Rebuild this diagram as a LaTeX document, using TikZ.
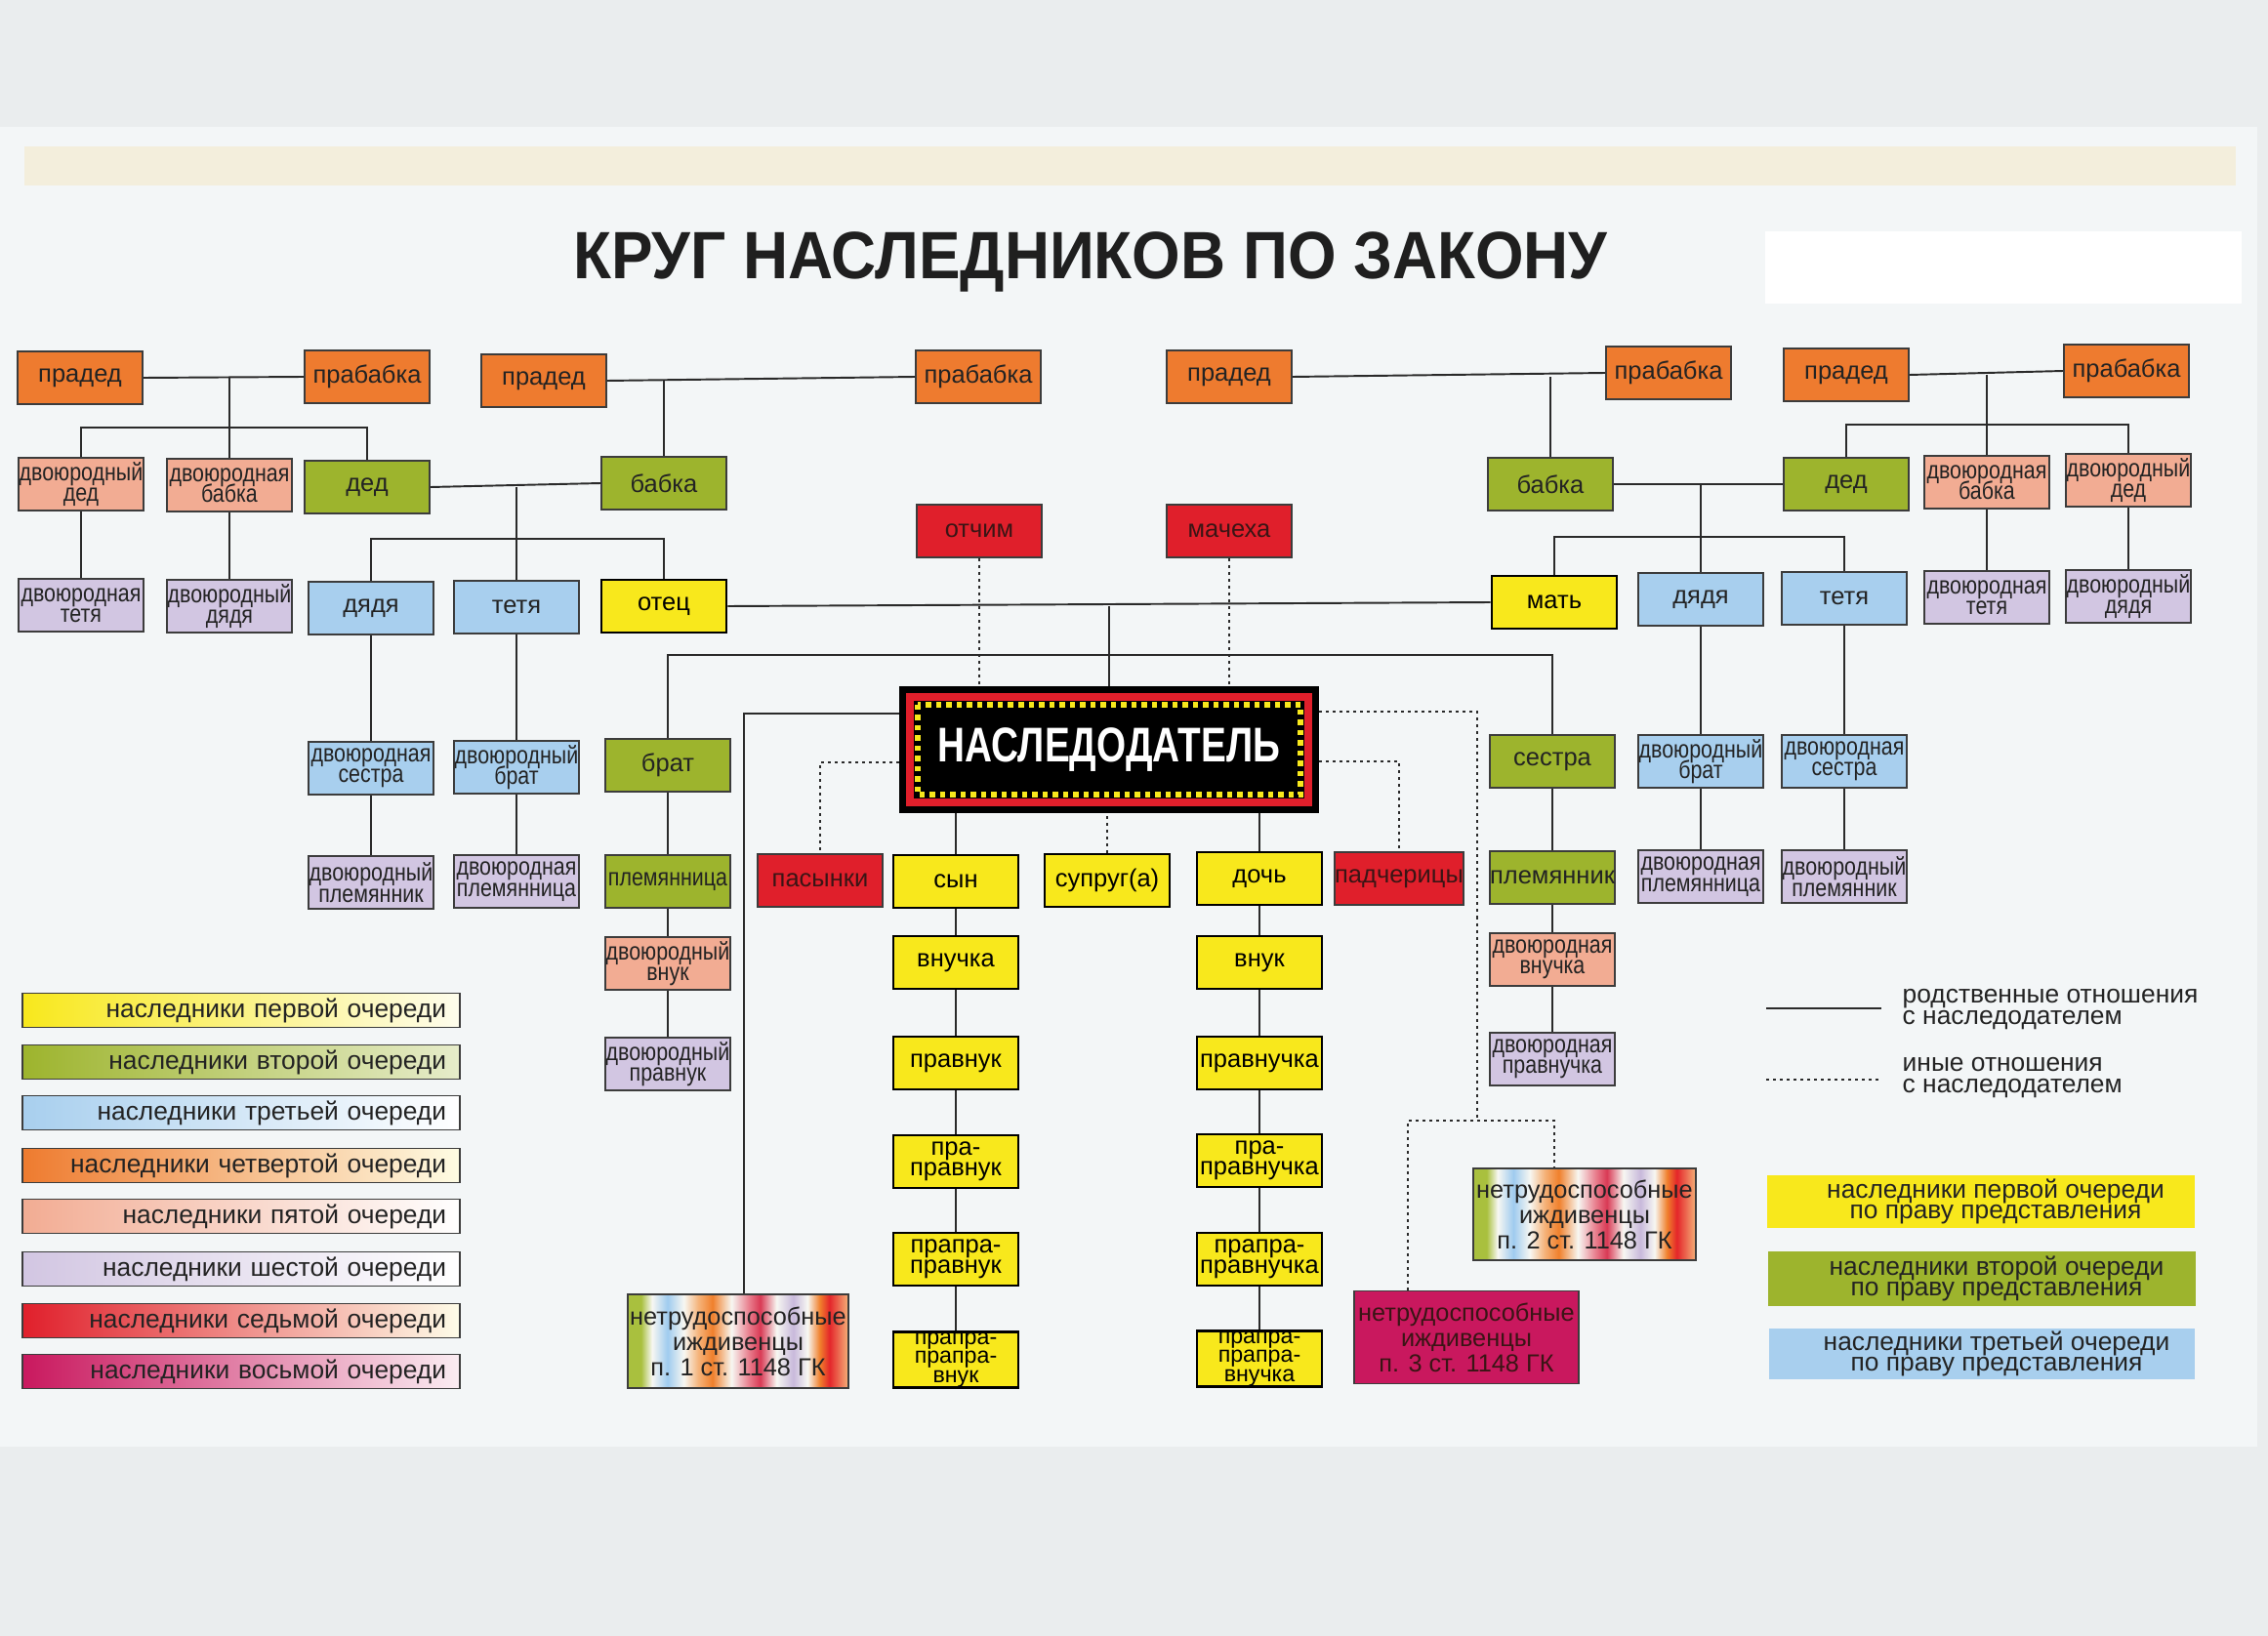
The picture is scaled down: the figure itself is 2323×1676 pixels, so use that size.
\documentclass[tikz,border=0pt]{standalone}
\usepackage{fontspec}
\usepackage{graphicx}
\setmainfont{Liberation Sans}
\newfontfamily\narrowfont{Liberation Sans}[FakeStretch=0.84]
\newfontfamily\nasfont{Liberation Sans}[FakeStretch=0.775]
\newfontfamily\titlefont{Liberation Sans}[FakeStretch=0.93]
\usetikzlibrary{calc}
\definecolor{cbg}{HTML}{EAEDEE}
\definecolor{cpaper}{HTML}{F3F6F7}
\definecolor{ccream}{HTML}{F3EEDC}
\definecolor{corange}{HTML}{EE7B2F}
\definecolor{csalmon}{HTML}{F2AC93}
\definecolor{clav}{HTML}{D2C6E2}
\definecolor{cgreen}{HTML}{9DB42D}
\definecolor{cblue}{HTML}{A8CFEE}
\definecolor{cyellow}{HTML}{F8E81C}
\definecolor{cred}{HTML}{E01F2B}
\definecolor{cmag}{HTML}{C9185E}
\definecolor{cbord}{HTML}{3C3C3C}
\definecolor{ctext}{HTML}{232323}
\definecolor{cline}{HTML}{2A2A2A}
\definecolor{credtext}{HTML}{3A1515}
\definecolor{rgreen}{HTML}{A9C03E}
\definecolor{rblue}{HTML}{9FCBEF}
\definecolor{rlor}{HTML}{F5B37A}
\definecolor{rorange}{HTML}{F0802C}
\definecolor{rrose}{HTML}{D93A55}
\definecolor{rpink}{HTML}{E87C8C}
\definecolor{rlav}{HTML}{C8B9DB}
\definecolor{rred}{HTML}{E4262A}
\definecolor{rwhite}{HTML}{F7F7F2}
\pgfdeclarehorizontalshading{rainbow}{100bp}{color(0bp)=(rgreen); color(25bp)=(rgreen); color(28bp)=(rgreen); color(30.5bp)=(rwhite); color(34bp)=(rblue); color(37.7bp)=(rwhite); color(41bp)=(rlor); color(44.2bp)=(rorange); color(48.5bp)=(rwhite); color(52.5bp)=(rpink); color(55bp)=(rrose); color(58.7bp)=(rwhite); color(62.5bp)=(rlav); color(65.7bp)=(rwhite); color(68.5bp)=(rorange); color(70.7bp)=(rred); color(75bp)=(rlor); color(100bp)=(rlor)}
\newcommand{\boxfs}{\fontsize{7.25}{6.1}\selectfont\lineskiplimit=-10pt\relax}
\newcommand{\trifs}{\fontsize{6.6}{5.6}\selectfont\lineskiplimit=-10pt\relax}
\newcommand{\legfs}{\fontsize{7.5}{6.0}\selectfont\lineskiplimit=-10pt\relax}
\newcommand{\nfs}{\fontsize{7.2}{7.4}\selectfont\lineskiplimit=-10pt\relax}
\begin{document}
\begin{tikzpicture}[x=0.01cm, y=-0.01cm,
  box/.style={draw=cbord, line width=0.45pt, minimum width=1.28cm, minimum height=0.54cm, inner sep=0pt, align=center, text=ctext, font=\boxfs},
  nar/.style={font=\narrowfont\boxfs},
  tri/.style={font=\trifs},
  ora/.style={box, fill=corange},
  sal/.style={box, fill=csalmon},
  lav/.style={box, fill=clav},
  grn/.style={box, fill=cgreen},
  blu/.style={box, fill=cblue},
  yel/.style={box, fill=cyellow, draw=black, line width=0.7pt, text=black},
  redb/.style={box, fill=cred, text=credtext},
  nbox/.style={box, font=\nfs, minimum height=0.95cm},
  rbow/.style={nbox, shade, shading=rainbow},
  link/.style={draw=cline, line width=0.55pt},
  dots/.style={draw=cline, line width=0.6pt, dash pattern=on 0.03cm off 0.04cm},
  legbar/.style={draw=cbord, line width=0.5pt, minimum width=4.48cm, minimum height=0.35cm, text width=4.2cm, inner xsep=0.14cm, inner ysep=0pt, align=right, font=\legfs, text=ctext},
  rleg/.style={minimum width=4.38cm, minimum height=0.53cm, inner sep=0pt, align=center, font=\legfs, text=ctext}
]
\useasboundingbox (0,0) rectangle (2323,1676);
% paper
\fill[cbg] (0,0) rectangle (2323,1676);
\fill[cpaper] (0,130) rectangle (2312,1482);
\fill[ccream] (25,150) rectangle (2290,190);
\fill[white] (1808,237) rectangle (2296,311);

% title
\node[font=\titlefont\fontsize{19.5}{22}\selectfont\bfseries, text=black!88] (title) at (1117,268) {КРУГ НАСЛЕДНИКОВ ПО ЗАКОНУ};

% great-grandparents
\node[ora] (pd1) at (82,387) {прадед};
\node[ora] (pb1) at (376,386) {прабабка};
\node[ora] (pd2) at (557,390) {прадед};
\node[ora] (pb2) at (1002,386) {прабабка};
\node[ora] (pd3) at (1259,386) {прадед};
\node[ora] (pb3) at (1709,382) {прабабка};
\node[ora] (pd4) at (1891,384) {прадед};
\node[ora] (pb4) at (2178,380) {прабабка};

% grandparents row
\node[sal, nar] (dd1) at (83,496) {двоюродный\\дед};
\node[sal, nar] (db1) at (235,497) {двоюродная\\бабка};
\node[grn] (ded1) at (376,499) {дед};
\node[grn] (bab1) at (680,495) {бабка};
\node[grn] (bab2) at (1588,496) {бабка};
\node[grn] (ded2) at (1891,496) {дед};
\node[sal, nar] (db2) at (2035,494) {двоюродная\\бабка};
\node[sal, nar] (dd2) at (2180,492) {двоюродный\\дед};

% step-parents
\node[redb] (otchim) at (1003,544) {отчим};
\node[redb] (macheha) at (1259,544) {мачеха};

% parents row
\node[lav, nar] (dt1) at (83,620) {двоюродная\\тетя};
\node[lav, nar] (ddy1) at (235,621) {двоюродный\\дядя};
\node[blu] (dya1) at (380,623) {дядя};
\node[blu] (tet1) at (529,622) {тетя};
\node[yel] (otec) at (680,621) {отец};
\node[yel] (mat) at (1592,617) {мать};
\node[blu] (dya2) at (1742,614) {дядя};
\node[blu] (tet2) at (1889,613) {тетя};
\node[lav, nar] (dt2) at (2035,612) {двоюродная\\тетя};
\node[lav, nar] (ddy2) at (2180,611) {двоюродный\\дядя};

% siblings row
\node[blu, nar] (ds1) at (380,787) {двоюродная\\сестра};
\node[blu, nar] (dbr1) at (529,786) {двоюродный\\брат};
\node[grn] (brat) at (684,784) {брат};
\node[grn] (sestra) at (1590,780) {сестра};
\node[blu, nar] (dbr2) at (1742,780) {двоюродный\\брат};
\node[blu, nar] (ds2) at (1889,780) {двоюродная\\сестра};

% testator
\node[fill=black, minimum width=4.29cm, minimum height=1.29cm, inner sep=0pt, text=white, font=\nasfont\fontsize{14.2}{16}\selectfont\bfseries] (nasl) at (1136,768) {НАСЛЕДОДАТЕЛЬ};
\draw[cred, line width=0.08cm] ($(nasl.north west)+(11,11)$) rectangle ($(nasl.south east)+(-11,-11)$);
\draw[cyellow, line width=0.06cm, dash pattern=on 0.055cm off 0.05cm] ($(nasl.north west)+(19,19)$) rectangle ($(nasl.south east)+(-19,-19)$);

% children row
\node[lav, nar] (dpl1) at (380,904) {двоюродный\\племянник};
\node[lav, nar] (dpla1) at (529,903) {двоюродная\\племянница};
\node[grn, nar] (plem1) at (684,903) {племянница};
\node[redb] (pas) at (840,902) {пасынки};
\node[yel] (syn) at (979,903) {сын};
\node[yel] (supr) at (1134,902) {супруг(а)};
\node[yel] (doch) at (1290,900) {дочь};
\node[redb] (padch) at (1433,900) {падчерицы};
\node[grn] (plem2) at (1590,899) {племянник};
\node[lav, nar] (dpla2) at (1742,898) {двоюродная\\племянница};
\node[lav, nar] (dpl2) at (1889,898) {двоюродный\\племянник};

% descendants
\node[sal, nar] (dvn) at (684,987) {двоюродный\\внук};
\node[yel] (vnuchka) at (979,986) {внучка};
\node[yel] (vnuk) at (1290,986) {внук};
\node[sal, nar] (dvnu) at (1590,983) {двоюродная\\внучка};
\node[lav, nar] (dpv) at (684,1090) {двоюродный\\правнук};
\node[yel] (pravnuk) at (979,1089) {правнук};
\node[yel] (pravnuchka) at (1290,1089) {правнучка};
\node[lav, nar] (dpvu) at (1590,1085) {двоюродная\\правнучка};
\node[yel] (ppv) at (979,1190) {пра-\\правнук};
\node[yel] (ppvu) at (1290,1189) {пра-\\правнучка};
\node[yel] (pppv) at (979,1290) {прапра-\\правнук};
\node[yel] (pppvu) at (1290,1290) {прапра-\\правнучка};
\node[yel, tri] (ppppv) at (979,1393) {прапра-\\прапра-\\внук};
\node[yel, tri] (ppppvu) at (1290,1392) {прапра-\\прапра-\\внучка};

% dependants
\node[rbow, minimum width=2.26cm, minimum height=0.96cm] (n1) at (756,1374) {нетрудоспособные\\иждивенцы\\п. 1 ст. 1148 ГК};
\node[rbow, minimum width=2.28cm, minimum height=0.94cm] (n2) at (1623,1244) {нетрудоспособные\\иждивенцы\\п. 2 ст. 1148 ГК};
\node[nbox, fill=cmag, text=credtext, minimum width=2.30cm, minimum height=0.95cm] (n3) at (1502,1370) {нетрудоспособные\\иждивенцы\\п. 3 ст. 1148 ГК};

% ---- connectors (solid)
\draw[link] (pd1.east) -- (pb1.west);
\draw[link] (db1.north) -- (db1.north |- pd1.east);
\coordinate (j1) at (235,438);
\draw[link] (dd1.north) |- (j1) -| (ded1.north);
\draw[link] (pd2.east) -- (pb2.west);
\draw[link] (bab1.north) -- (bab1.north |- pd2.east);
\draw[link] (ded1.east) -- (bab1.west);
\draw[link] (tet1.north) -- (tet1.north |- ded1.east);
\coordinate (j2) at (529,552);
\draw[link] (dya1.north) |- (j2) -| (otec.north);
\draw[link] (dd1.south) -- (dt1.north);
\draw[link] (db1.south) -- (ddy1.north);
\draw[link] (dya1.south) -- (ds1.north);
\draw[link] (ds1.south) -- (dpl1.north);
\draw[link] (tet1.south) -- (dbr1.north);
\draw[link] (dbr1.south) -- (dpla1.north);

\draw[link] (pd3.east) -- (pb3.west);
\draw[link] (bab2.north) -- (bab2.north |- pd3.east);
\draw[link] (pd4.east) -- (pb4.west);
\draw[link] (db2.north) -- (db2.north |- pd4.east);
\coordinate (j3) at (2035,435);
\draw[link] (ded2.north) |- (j3) -| (dd2.north);
\draw[link] (bab2.east) -- (ded2.west);
\draw[link] (dya2.north) -- (dya2.north |- bab2.east);
\coordinate (j4) at (1742,550);
\draw[link] (mat.north) |- (j4) -| (tet2.north);
\draw[link] (db2.south) -- (dt2.north);
\draw[link] (dd2.south) -- (ddy2.north);
\draw[link] (dya2.south) -- (dbr2.north);
\draw[link] (dbr2.south) -- (dpla2.north);
\draw[link] (tet2.south) -- (ds2.north);
\draw[link] (ds2.south) -- (dpl2.north);

\draw[link] (otec.east) -- (mat.west);
\draw[link] (nasl.north) -- (nasl.north |- otec.east);
\coordinate (j5) at (1136,671);
\draw[link] (brat.north) |- (j5) -| (sestra.north);
\draw[link] (brat.south) -- (plem1.north);
\draw[link] (plem1.south) -- (dvn.north);
\draw[link] (dvn.south) -- (dpv.north);
\draw[link] (sestra.south) -- (plem2.north);
\draw[link] (plem2.south) -- (dvnu.north);
\draw[link] (dvnu.south) -- (dpvu.north);
\draw[link] (syn.north) -- (syn.north |- nasl.south);
\draw[link] (doch.north) -- (doch.north |- nasl.south);
\draw[link] (syn.south) -- (vnuchka.north);
\draw[link] (vnuchka.south) -- (pravnuk.north);
\draw[link] (pravnuk.south) -- (ppv.north);
\draw[link] (ppv.south) -- (pppv.north);
\draw[link] (pppv.south) -- (ppppv.north);
\draw[link] (doch.south) -- (vnuk.north);
\draw[link] (vnuk.south) -- (pravnuchka.north);
\draw[link] (pravnuchka.south) -- (ppvu.north);
\draw[link] (ppvu.south) -- (pppvu.north);
\draw[link] (pppvu.south) -- (ppppvu.north);
\coordinate (j6) at (762,731);
\draw[link] (nasl.west |- j6) -- (j6) -- (j6 |- n1.north);

% ---- connectors (dotted)
\draw[dots] (otchim.south) -- (otchim.south |- nasl.north);
\draw[dots] (macheha.south) -- (macheha.south |- nasl.north);
\draw[dots] (supr.north) -- (supr.north |- nasl.south);
\coordinate (j7) at (840,781);
\draw[dots] (nasl.west |- j7) -- (j7) -- (pas.north);
\coordinate (j8) at (1433,780);
\draw[dots] (nasl.east |- j8) -- (j8) -- (padch.north);
\coordinate (j9) at (1513,729);
\coordinate (j10) at (1513,1148);
\draw[dots] (nasl.east |- j9) -- (j9) -- (j10);
\coordinate (j11) at (1442,1148);
\coordinate (j12) at (1592,1148);
\draw[dots] (j11 |- n3.north) -- (j11) -- (j12) -- (j12 |- n2.north);

% ---- left legend
\node[legbar, left color=cyellow, middle color=cyellow!92!white, right color=white!92!cyellow] (leg1) at (247,1035) {наследники первой очереди};
\node[legbar, left color=cgreen, middle color=cgreen!85!white, right color=cgreen!25!white] (leg2) at (247,1088) {наследники второй очереди};
\node[legbar, left color=cblue, middle color=cblue!75!white, right color=white] (leg3) at (247,1140) {наследники третьей очереди};
\node[legbar, left color=corange, middle color=corange!88!white, right color=cyellow!12!white] (leg4) at (247,1194) {наследники четвертой очереди};
\node[legbar, left color=csalmon, middle color=csalmon!80!white, right color=white] (leg5) at (247,1246) {наследники пятой очереди};
\node[legbar, left color=clav, middle color=clav!65!white, right color=white] (leg6) at (247,1300) {наследники шестой очереди};
\node[legbar, left color=cred, middle color=corange!90!cred, right color=cyellow!10!white] (leg7) at (247,1353) {наследники седьмой очереди};
\node[legbar, left color=cmag, middle color=cmag!65!white, right color=cmag!8!white] (leg8) at (247,1405) {наследники восьмой очереди};

% ---- right legend
\coordinate (s1a) at (1809,1033);
\coordinate (s1b) at (1927,1033);
\coordinate (s2a) at (1809,1106);
\coordinate (s2b) at (1927,1106);
\draw[link] (s1a) -- (s1b);
\draw[dots] (s2a) -- (s2b);
\node[anchor=west, align=left, inner sep=0pt, font=\legfs, text=ctext] (lt1) at (1948,1034) {родственные отношения\\с наследодателем};
\node[anchor=west, align=left, inner sep=0pt, font=\legfs, text=ctext] (lt2) at (1948,1104) {иные отношения\\с наследодателем};
\node[rleg, fill=cyellow] (ry) at (2029,1231) {\hspace*{0.3cm}наследники первой очереди\\\hspace*{0.3cm}по праву представления};
\node[rleg, fill=cgreen, minimum height=0.55cm] (rg) at (2030,1310) {\hspace*{0.3cm}наследники второй очереди\\\hspace*{0.3cm}по праву представления};
\node[rleg, fill=cblue, minimum height=0.51cm, minimum width=4.35cm] (rb) at (2030,1387) {\hspace*{0.3cm}наследники третьей очереди\\\hspace*{0.3cm}по праву представления};
\end{tikzpicture}
\end{document}
